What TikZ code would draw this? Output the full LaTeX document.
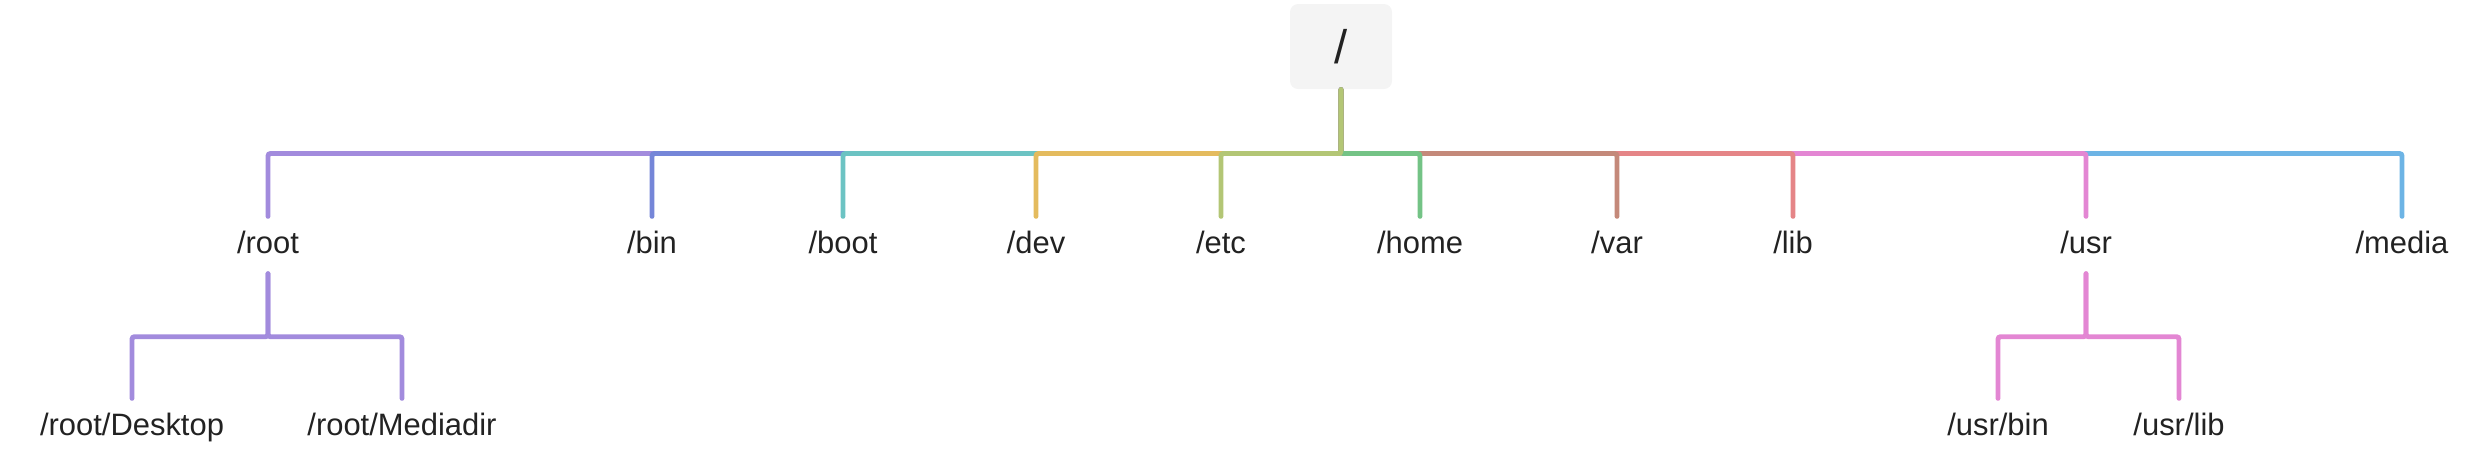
\documentclass[tikz,border=0pt]{standalone}
\usepackage{fontspec}
\setmainfont{Liberation Sans}
\usepackage{tikz}
\usetikzlibrary{positioning}
\definecolor{Ink}{HTML}{222222}
\definecolor{Pale}{HTML}{F4F4F4}
\definecolor{Lilac}{HTML}{A28BDD}
\definecolor{Cobalt}{HTML}{7586D8}
\definecolor{Aqua}{HTML}{6CC3C3}
\definecolor{Mustard}{HTML}{E4BB5E}
\definecolor{Olive}{HTML}{B3C675}
\definecolor{Mint}{HTML}{74C386}
\definecolor{Clay}{HTML}{C4897A}
\definecolor{Coral}{HTML}{E58587}
\definecolor{Orchid}{HTML}{E386D3}
\definecolor{Sky}{HTML}{6DB4E5}
\tikzset{
  dir/.style={inner sep=0pt,minimum height=5.6mm,text height=6.4pt,text depth=1.85pt,text=Ink,font=\fontsize{8.8}{10}\selectfont},
  topbox/.style={rounded corners=0.8mm,fill=Pale,draw=none,minimum width=10.2mm,minimum height=8.5mm,inner sep=0pt,text=Ink,font=\fontsize{13.4}{15}\selectfont},
  link/.style={line width=1.4pt,line cap=round,rounded corners=0.25mm}
}

\begin{document}
\begin{tikzpicture}[x=0.1mm,y=-0.1mm]
        \useasboundingbox (0,0) rectangle (2486,460);
        \node[topbox] (fs) at (1341,46.5) {/\hspace{2.2mm}};
        \coordinate (bus) at (1341,153.5);
        % first level
        \node[dir] (root) at (268,245) {/root};
        \node[dir] (bin) at (652,245) {/bin};
        \node[dir] (boot) at (843,245) {/boot};
        \node[dir] (dev) at (1036,245) {/dev};
        \node[dir] (etc) at (1221,245) {/etc};
        \node[dir] (home) at (1420,245) {/home};
        \node[dir] (var) at (1617,245) {/var};
        \node[dir] (lib) at (1793,245) {/lib};
        \node[dir] (usr) at (2086,245) {/usr};
        \node[dir] (media) at (2402,245) {/media};
        % second level
        \node[dir] (desktop) at (132,427) {/root/Desktop};
        \node[dir] (mediadir) at (402,427) {/root/Mediadir};
        \node[dir] (usrbin) at (1998,427) {/usr/bin};
        \node[dir] (usrlib) at (2179,427) {/usr/lib};
        % outer branches first, so the inner ones lie on top
        \foreach \d/\c in {root/Lilac,media/Sky,bin/Cobalt,usr/Orchid,boot/Aqua,lib/Coral,dev/Mustard,var/Clay,home/Mint,etc/Olive}
          \draw[link,\c] (fs.south) -- (bus) -| (\d.north);
        \draw[link,Lilac] (root.south) -- ++(0,63) -| (desktop.north);
        \draw[link,Lilac] (root.south) -- ++(0,63) -| (mediadir.north);
        \draw[link,Orchid] (usr.south) -- ++(0,63) -| (usrbin.north);
        \draw[link,Orchid] (usr.south) -- ++(0,63) -| (usrlib.north);
      \end{tikzpicture}
\end{document}
